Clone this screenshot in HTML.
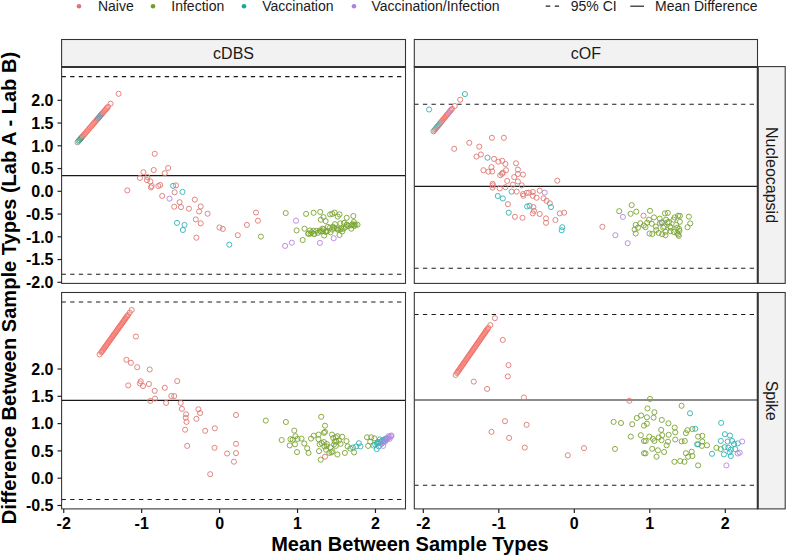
<!DOCTYPE html><html><head><meta charset="utf-8"><style>html,body{margin:0;padding:0;background:#fff;width:787px;height:557px;overflow:hidden}</style></head><body><svg width="787" height="557" viewBox="0 0 787 557" style="display:block">
<rect width="787" height="557" fill="#fff"/>
<circle cx="79" cy="6.2" r="2.3" fill="#d9757a"/>
<text x="97.9" y="11.3" font-family='"Liberation Sans", sans-serif' font-size="14" fill="#1a1a1a">Naive</text>
<circle cx="153" cy="6.2" r="2.3" fill="#739c28"/>
<text x="171.3" y="11.3" font-family='"Liberation Sans", sans-serif' font-size="14" fill="#1a1a1a">Infection</text>
<circle cx="244" cy="6.2" r="2.3" fill="#16a99c"/>
<text x="262.2" y="11.3" font-family='"Liberation Sans", sans-serif' font-size="14" fill="#1a1a1a">Vaccination</text>
<circle cx="354" cy="6.2" r="2.3" fill="#b07fe0"/>
<text x="371.5" y="11.3" font-family='"Liberation Sans", sans-serif' font-size="14" fill="#1a1a1a">Vaccination/Infection</text>
<line x1="545.7" y1="6.2" x2="559.1" y2="6.2" stroke="#222" stroke-width="1.2" stroke-dasharray="4.5 4.6"/>
<text x="570.8" y="11.3" font-family='"Liberation Sans", sans-serif' font-size="14" fill="#1a1a1a">95% CI</text>
<line x1="630.3" y1="6.2" x2="644" y2="6.2" stroke="#222" stroke-width="1.2"/>
<text x="655" y="11.3" font-family='"Liberation Sans", sans-serif' font-size="14" fill="#1a1a1a">Mean Difference</text>
<svg x="61.6" y="66.6" width="343.9" height="216.79999999999998" overflow="hidden">
<line x1="0" y1="10.0" x2="343.9" y2="10.0" stroke="#1a1a1a" stroke-width="1.07" stroke-dasharray="4.3 4.3"/>
<line x1="0" y1="207.70000000000002" x2="343.9" y2="207.70000000000002" stroke="#1a1a1a" stroke-width="1.07" stroke-dasharray="4.3 4.3"/>
<line x1="0" y1="109.0" x2="343.9" y2="109.0" stroke="#1a1a1a" stroke-width="1.07"/>
<circle cx="15.9" cy="75.7" r="2.55" fill="none" stroke="#8a9a8c" stroke-width="0.85"/>
<circle cx="16.8" cy="74.6" r="2.55" fill="none" stroke="#8a9a8c" stroke-width="0.85"/>
<circle cx="17.7" cy="73.6" r="2.55" fill="none" stroke="#3f9a7a" stroke-width="0.85"/>
<circle cx="18.7" cy="72.5" r="2.55" fill="none" stroke="#3f9a7a" stroke-width="0.85"/>
<circle cx="19.6" cy="71.4" r="2.55" fill="none" stroke="#3f9a7a" stroke-width="0.85"/>
<circle cx="20.5" cy="70.3" r="2.55" fill="none" stroke="#3f9a7a" stroke-width="0.85"/>
<circle cx="21.4" cy="69.2" r="2.55" fill="none" stroke="#f2756c" stroke-width="0.85"/>
<circle cx="22.4" cy="68.2" r="2.55" fill="none" stroke="#f2756c" stroke-width="0.85"/>
<circle cx="23.3" cy="67.1" r="2.55" fill="none" stroke="#f2756c" stroke-width="0.85"/>
<circle cx="24.2" cy="66.0" r="2.55" fill="none" stroke="#f2756c" stroke-width="0.85"/>
<circle cx="25.1" cy="64.9" r="2.55" fill="none" stroke="#f2756c" stroke-width="0.85"/>
<circle cx="26.1" cy="63.9" r="2.55" fill="none" stroke="#f2756c" stroke-width="0.85"/>
<circle cx="27.0" cy="62.8" r="2.55" fill="none" stroke="#f2756c" stroke-width="0.85"/>
<circle cx="27.9" cy="61.7" r="2.55" fill="none" stroke="#f2756c" stroke-width="0.85"/>
<circle cx="28.8" cy="60.6" r="2.55" fill="none" stroke="#f2756c" stroke-width="0.85"/>
<circle cx="29.8" cy="59.6" r="2.55" fill="none" stroke="#f2756c" stroke-width="0.85"/>
<circle cx="30.7" cy="58.5" r="2.55" fill="none" stroke="#f2756c" stroke-width="0.85"/>
<circle cx="31.6" cy="57.4" r="2.55" fill="none" stroke="#f2756c" stroke-width="0.85"/>
<circle cx="32.5" cy="56.3" r="2.55" fill="none" stroke="#f2756c" stroke-width="0.85"/>
<circle cx="33.5" cy="55.3" r="2.55" fill="none" stroke="#f2756c" stroke-width="0.85"/>
<circle cx="34.4" cy="54.2" r="2.55" fill="none" stroke="#f2756c" stroke-width="0.85"/>
<circle cx="35.3" cy="53.1" r="2.55" fill="none" stroke="#f2756c" stroke-width="0.85"/>
<circle cx="36.2" cy="52.0" r="2.55" fill="none" stroke="#7b8898" stroke-width="0.85"/>
<circle cx="37.2" cy="51.0" r="2.55" fill="none" stroke="#7b8898" stroke-width="0.85"/>
<circle cx="38.1" cy="49.9" r="2.55" fill="none" stroke="#7b8898" stroke-width="0.85"/>
<circle cx="39.0" cy="48.8" r="2.55" fill="none" stroke="#7b8898" stroke-width="0.85"/>
<circle cx="39.9" cy="47.7" r="2.55" fill="none" stroke="#7b8898" stroke-width="0.85"/>
<circle cx="40.9" cy="46.7" r="2.55" fill="none" stroke="#7b8898" stroke-width="0.85"/>
<circle cx="41.8" cy="45.6" r="2.55" fill="none" stroke="#f2756c" stroke-width="0.85"/>
<circle cx="42.7" cy="44.5" r="2.55" fill="none" stroke="#f2756c" stroke-width="0.85"/>
<circle cx="43.6" cy="43.4" r="2.55" fill="none" stroke="#f2756c" stroke-width="0.85"/>
<circle cx="44.6" cy="42.4" r="2.55" fill="none" stroke="#f2756c" stroke-width="0.85"/>
<circle cx="45.5" cy="41.3" r="2.55" fill="none" stroke="#f2756c" stroke-width="0.85"/>
<circle cx="46.4" cy="40.2" r="2.55" fill="none" stroke="#f2756c" stroke-width="0.85"/>
<circle cx="49.0" cy="37.1" r="2.55" fill="none" stroke="#df7872" stroke-width="0.9"/>
<circle cx="57.0" cy="27.2" r="2.55" fill="none" stroke="#df7872" stroke-width="0.9"/>
<circle cx="93.1" cy="87.2" r="2.55" fill="none" stroke="#df7872" stroke-width="0.9"/>
<circle cx="106.5" cy="101.4" r="2.55" fill="none" stroke="#df7872" stroke-width="0.9"/>
<circle cx="92.1" cy="103.4" r="2.55" fill="none" stroke="#df7872" stroke-width="0.9"/>
<circle cx="81.8" cy="105.6" r="2.55" fill="none" stroke="#df7872" stroke-width="0.9"/>
<circle cx="103.2" cy="106.6" r="2.55" fill="none" stroke="#df7872" stroke-width="0.9"/>
<circle cx="78.3" cy="111.3" r="2.55" fill="none" stroke="#df7872" stroke-width="0.9"/>
<circle cx="85.8" cy="110.5" r="2.55" fill="none" stroke="#df7872" stroke-width="0.9"/>
<circle cx="85.4" cy="113.5" r="2.55" fill="none" stroke="#df7872" stroke-width="0.9"/>
<circle cx="88.8" cy="114.9" r="2.55" fill="none" stroke="#df7872" stroke-width="0.9"/>
<circle cx="90.1" cy="119.4" r="2.55" fill="none" stroke="#df7872" stroke-width="0.9"/>
<circle cx="89.3" cy="120.8" r="2.55" fill="none" stroke="#df7872" stroke-width="0.9"/>
<circle cx="96.7" cy="119.4" r="2.55" fill="none" stroke="#df7872" stroke-width="0.9"/>
<circle cx="98.6" cy="118.4" r="2.55" fill="none" stroke="#df7872" stroke-width="0.9"/>
<circle cx="65.7" cy="123.8" r="2.55" fill="none" stroke="#df7872" stroke-width="0.9"/>
<circle cx="111.5" cy="119.2" r="2.55" fill="none" stroke="#30b2b5" stroke-width="0.9"/>
<circle cx="114.4" cy="118.8" r="2.55" fill="none" stroke="#df7872" stroke-width="0.9"/>
<circle cx="120.9" cy="125.3" r="2.55" fill="none" stroke="#30b2b5" stroke-width="0.9"/>
<circle cx="113.0" cy="125.7" r="2.55" fill="none" stroke="#df7872" stroke-width="0.9"/>
<circle cx="100.6" cy="129.3" r="2.55" fill="none" stroke="#df7872" stroke-width="0.9"/>
<circle cx="107.9" cy="132.0" r="2.55" fill="none" stroke="#b386dc" stroke-width="0.9"/>
<circle cx="118.0" cy="135.6" r="2.55" fill="none" stroke="#df7872" stroke-width="0.9"/>
<circle cx="133.2" cy="133.0" r="2.55" fill="none" stroke="#df7872" stroke-width="0.9"/>
<circle cx="112.6" cy="140.1" r="2.55" fill="none" stroke="#df7872" stroke-width="0.9"/>
<circle cx="119.4" cy="140.5" r="2.55" fill="none" stroke="#df7872" stroke-width="0.9"/>
<circle cx="127.3" cy="142.1" r="2.55" fill="none" stroke="#df7872" stroke-width="0.9"/>
<circle cx="139.1" cy="139.9" r="2.55" fill="none" stroke="#df7872" stroke-width="0.9"/>
<circle cx="137.5" cy="144.9" r="2.55" fill="none" stroke="#df7872" stroke-width="0.9"/>
<circle cx="146.0" cy="147.1" r="2.55" fill="none" stroke="#df7872" stroke-width="0.9"/>
<circle cx="134.2" cy="152.8" r="2.55" fill="none" stroke="#df7872" stroke-width="0.9"/>
<circle cx="139.1" cy="156.7" r="2.55" fill="none" stroke="#df7872" stroke-width="0.9"/>
<circle cx="115.4" cy="156.3" r="2.55" fill="none" stroke="#30b2b5" stroke-width="0.9"/>
<circle cx="122.9" cy="158.3" r="2.55" fill="none" stroke="#30b2b5" stroke-width="0.9"/>
<circle cx="121.3" cy="163.4" r="2.55" fill="none" stroke="#30b2b5" stroke-width="0.9"/>
<circle cx="157.9" cy="160.9" r="2.55" fill="none" stroke="#df7872" stroke-width="0.9"/>
<circle cx="161.2" cy="162.3" r="2.55" fill="none" stroke="#df7872" stroke-width="0.9"/>
<circle cx="134.8" cy="171.1" r="2.55" fill="none" stroke="#df7872" stroke-width="0.9"/>
<circle cx="176.2" cy="168.6" r="2.55" fill="none" stroke="#df7872" stroke-width="0.9"/>
<circle cx="167.7" cy="178.1" r="2.55" fill="none" stroke="#30b2b5" stroke-width="0.9"/>
<circle cx="194.4" cy="145.9" r="2.55" fill="none" stroke="#df7872" stroke-width="0.9"/>
<circle cx="196.3" cy="154.1" r="2.55" fill="none" stroke="#df7872" stroke-width="0.9"/>
<circle cx="185.3" cy="158.3" r="2.55" fill="none" stroke="#df7872" stroke-width="0.9"/>
<circle cx="199.3" cy="170.0" r="2.55" fill="none" stroke="#7aa432" stroke-width="0.9"/>
<circle cx="224.1" cy="146.5" r="2.55" fill="none" stroke="#7aa432" stroke-width="0.9"/>
<circle cx="234.4" cy="154.1" r="2.55" fill="none" stroke="#b386dc" stroke-width="0.9"/>
<circle cx="230.2" cy="176.1" r="2.55" fill="none" stroke="#b386dc" stroke-width="0.9"/>
<circle cx="223.5" cy="179.3" r="2.55" fill="none" stroke="#b386dc" stroke-width="0.9"/>
<circle cx="235.0" cy="163.8" r="2.55" fill="none" stroke="#7aa432" stroke-width="0.9"/>
<circle cx="244.5" cy="147.3" r="2.55" fill="none" stroke="#7aa432" stroke-width="0.9"/>
<circle cx="252.0" cy="146.2" r="2.55" fill="none" stroke="#7aa432" stroke-width="0.9"/>
<circle cx="258.6" cy="145.3" r="2.55" fill="none" stroke="#7aa432" stroke-width="0.9"/>
<circle cx="261.9" cy="150.5" r="2.55" fill="none" stroke="#7aa432" stroke-width="0.9"/>
<circle cx="259.2" cy="153.1" r="2.55" fill="none" stroke="#7aa432" stroke-width="0.9"/>
<circle cx="264.0" cy="154.5" r="2.55" fill="none" stroke="#7aa432" stroke-width="0.9"/>
<circle cx="268.5" cy="147.8" r="2.55" fill="none" stroke="#7aa432" stroke-width="0.9"/>
<circle cx="270.7" cy="147.3" r="2.55" fill="none" stroke="#7aa432" stroke-width="0.9"/>
<circle cx="273.0" cy="146.0" r="2.55" fill="none" stroke="#7aa432" stroke-width="0.9"/>
<circle cx="277.9" cy="147.8" r="2.55" fill="none" stroke="#7aa432" stroke-width="0.9"/>
<circle cx="276.1" cy="150.0" r="2.55" fill="none" stroke="#7aa432" stroke-width="0.9"/>
<circle cx="285.1" cy="151.2" r="2.55" fill="none" stroke="#7aa432" stroke-width="0.9"/>
<circle cx="291.8" cy="149.4" r="2.55" fill="none" stroke="#7aa432" stroke-width="0.9"/>
<circle cx="292.3" cy="155.4" r="2.55" fill="none" stroke="#7aa432" stroke-width="0.9"/>
<circle cx="295.9" cy="158.1" r="2.55" fill="none" stroke="#7aa432" stroke-width="0.9"/>
<circle cx="292.7" cy="159.4" r="2.55" fill="none" stroke="#7aa432" stroke-width="0.9"/>
<circle cx="242.9" cy="162.1" r="2.55" fill="none" stroke="#7aa432" stroke-width="0.9"/>
<circle cx="248.3" cy="163.9" r="2.55" fill="none" stroke="#7aa432" stroke-width="0.9"/>
<circle cx="246.9" cy="167.1" r="2.55" fill="none" stroke="#7aa432" stroke-width="0.9"/>
<circle cx="241.1" cy="173.4" r="2.55" fill="none" stroke="#7aa432" stroke-width="0.9"/>
<circle cx="252.8" cy="167.5" r="2.55" fill="none" stroke="#7aa432" stroke-width="0.9"/>
<circle cx="256.4" cy="166.2" r="2.55" fill="none" stroke="#7aa432" stroke-width="0.9"/>
<circle cx="260.8" cy="162.1" r="2.55" fill="none" stroke="#7aa432" stroke-width="0.9"/>
<circle cx="262.6" cy="168.9" r="2.55" fill="none" stroke="#7aa432" stroke-width="0.9"/>
<circle cx="266.2" cy="160.3" r="2.55" fill="none" stroke="#7aa432" stroke-width="0.9"/>
<circle cx="268.9" cy="165.7" r="2.55" fill="none" stroke="#7aa432" stroke-width="0.9"/>
<circle cx="273.4" cy="157.6" r="2.55" fill="none" stroke="#7aa432" stroke-width="0.9"/>
<circle cx="276.1" cy="163.0" r="2.55" fill="none" stroke="#7aa432" stroke-width="0.9"/>
<circle cx="277.9" cy="168.4" r="2.55" fill="none" stroke="#7aa432" stroke-width="0.9"/>
<circle cx="278.8" cy="156.7" r="2.55" fill="none" stroke="#7aa432" stroke-width="0.9"/>
<circle cx="282.4" cy="156.3" r="2.55" fill="none" stroke="#7aa432" stroke-width="0.9"/>
<circle cx="280.6" cy="164.8" r="2.55" fill="none" stroke="#7aa432" stroke-width="0.9"/>
<circle cx="284.2" cy="160.3" r="2.55" fill="none" stroke="#7aa432" stroke-width="0.9"/>
<circle cx="286.9" cy="159.4" r="2.55" fill="none" stroke="#7aa432" stroke-width="0.9"/>
<circle cx="289.6" cy="162.1" r="2.55" fill="none" stroke="#7aa432" stroke-width="0.9"/>
<circle cx="272.5" cy="161.2" r="2.55" fill="none" stroke="#7aa432" stroke-width="0.9"/>
<circle cx="264.4" cy="164.8" r="2.55" fill="none" stroke="#7aa432" stroke-width="0.9"/>
<circle cx="258.1" cy="163.9" r="2.55" fill="none" stroke="#7aa432" stroke-width="0.9"/>
<circle cx="250.1" cy="165.7" r="2.55" fill="none" stroke="#7aa432" stroke-width="0.9"/>
<circle cx="272.1" cy="171.6" r="2.55" fill="none" stroke="#b386dc" stroke-width="0.9"/>
<circle cx="258.3" cy="176.3" r="2.55" fill="none" stroke="#b386dc" stroke-width="0.9"/>
<circle cx="246.6" cy="167.1" r="2.55" fill="none" stroke="#7aa432" stroke-width="0.85"/>
<circle cx="249.0" cy="167.0" r="2.55" fill="none" stroke="#7aa432" stroke-width="0.85"/>
<circle cx="251.9" cy="164.2" r="2.55" fill="none" stroke="#7aa432" stroke-width="0.85"/>
<circle cx="252.1" cy="167.2" r="2.55" fill="none" stroke="#7aa432" stroke-width="0.85"/>
<circle cx="254.8" cy="164.2" r="2.55" fill="none" stroke="#7aa432" stroke-width="0.85"/>
<circle cx="259.1" cy="164.8" r="2.55" fill="none" stroke="#7aa432" stroke-width="0.85"/>
<circle cx="260.7" cy="164.5" r="2.55" fill="none" stroke="#7aa432" stroke-width="0.85"/>
<circle cx="262.1" cy="162.6" r="2.55" fill="none" stroke="#7aa432" stroke-width="0.85"/>
<circle cx="264.1" cy="165.4" r="2.55" fill="none" stroke="#7aa432" stroke-width="0.85"/>
<circle cx="265.9" cy="164.4" r="2.55" fill="none" stroke="#7aa432" stroke-width="0.85"/>
<circle cx="268.3" cy="161.1" r="2.55" fill="none" stroke="#7aa432" stroke-width="0.85"/>
<circle cx="270.6" cy="163.0" r="2.55" fill="none" stroke="#7aa432" stroke-width="0.85"/>
<circle cx="271.3" cy="160.1" r="2.55" fill="none" stroke="#7aa432" stroke-width="0.85"/>
<circle cx="275.1" cy="161.7" r="2.55" fill="none" stroke="#7aa432" stroke-width="0.85"/>
<circle cx="276.7" cy="163.1" r="2.55" fill="none" stroke="#7aa432" stroke-width="0.85"/>
<circle cx="278.7" cy="162.9" r="2.55" fill="none" stroke="#7aa432" stroke-width="0.85"/>
<circle cx="279.8" cy="162.0" r="2.55" fill="none" stroke="#7aa432" stroke-width="0.85"/>
<circle cx="282.0" cy="162.2" r="2.55" fill="none" stroke="#7aa432" stroke-width="0.85"/>
<circle cx="285.3" cy="158.1" r="2.55" fill="none" stroke="#7aa432" stroke-width="0.85"/>
<circle cx="285.1" cy="158.2" r="2.55" fill="none" stroke="#7aa432" stroke-width="0.85"/>
<circle cx="289.7" cy="158.8" r="2.55" fill="none" stroke="#7aa432" stroke-width="0.85"/>
<circle cx="290.7" cy="157.8" r="2.55" fill="none" stroke="#7aa432" stroke-width="0.85"/>
<circle cx="292.4" cy="157.8" r="2.55" fill="none" stroke="#7aa432" stroke-width="0.85"/>
<circle cx="293.9" cy="158.3" r="2.55" fill="none" stroke="#7aa432" stroke-width="0.85"/>
</svg>
<rect x="61.6" y="66.6" width="343.9" height="216.79999999999998" fill="none" stroke="#333333" stroke-width="1.07"/>
<svg x="414.3" y="66.6" width="343.2" height="216.79999999999998" overflow="hidden">
<line x1="0" y1="37.7" x2="343.2" y2="37.7" stroke="#1a1a1a" stroke-width="1.07" stroke-dasharray="4.3 4.3"/>
<line x1="0" y1="201.70000000000002" x2="343.2" y2="201.70000000000002" stroke="#1a1a1a" stroke-width="1.07" stroke-dasharray="4.3 4.3"/>
<line x1="0" y1="119.80000000000001" x2="343.2" y2="119.80000000000001" stroke="#1a1a1a" stroke-width="1.07"/>
<circle cx="19.2" cy="64.7" r="2.55" fill="none" stroke="#30b2b5" stroke-width="0.85"/>
<circle cx="20.1" cy="63.6" r="2.55" fill="none" stroke="#f2756c" stroke-width="0.85"/>
<circle cx="21.0" cy="62.6" r="2.55" fill="none" stroke="#30b2b5" stroke-width="0.85"/>
<circle cx="21.8" cy="61.5" r="2.55" fill="none" stroke="#f2756c" stroke-width="0.85"/>
<circle cx="22.7" cy="60.4" r="2.55" fill="none" stroke="#30b2b5" stroke-width="0.85"/>
<circle cx="23.6" cy="59.3" r="2.55" fill="none" stroke="#f2756c" stroke-width="0.85"/>
<circle cx="24.5" cy="58.3" r="2.55" fill="none" stroke="#30b2b5" stroke-width="0.85"/>
<circle cx="25.4" cy="57.2" r="2.55" fill="none" stroke="#f2756c" stroke-width="0.85"/>
<circle cx="26.2" cy="56.1" r="2.55" fill="none" stroke="#30b2b5" stroke-width="0.85"/>
<circle cx="27.1" cy="55.1" r="2.55" fill="none" stroke="#f2756c" stroke-width="0.85"/>
<circle cx="28.0" cy="54.0" r="2.55" fill="none" stroke="#f2756c" stroke-width="0.85"/>
<circle cx="28.9" cy="52.9" r="2.55" fill="none" stroke="#f2756c" stroke-width="0.85"/>
<circle cx="29.8" cy="51.8" r="2.55" fill="none" stroke="#f2756c" stroke-width="0.85"/>
<circle cx="30.6" cy="50.8" r="2.55" fill="none" stroke="#f2756c" stroke-width="0.85"/>
<circle cx="31.5" cy="49.7" r="2.55" fill="none" stroke="#f2756c" stroke-width="0.85"/>
<circle cx="32.4" cy="48.6" r="2.55" fill="none" stroke="#f2756c" stroke-width="0.85"/>
<circle cx="33.3" cy="47.6" r="2.55" fill="none" stroke="#f2756c" stroke-width="0.85"/>
<circle cx="34.2" cy="46.5" r="2.55" fill="none" stroke="#f2756c" stroke-width="0.85"/>
<circle cx="35.1" cy="45.4" r="2.55" fill="none" stroke="#b386dc" stroke-width="0.85"/>
<circle cx="35.9" cy="44.3" r="2.55" fill="none" stroke="#f2756c" stroke-width="0.85"/>
<circle cx="36.8" cy="43.3" r="2.55" fill="none" stroke="#b386dc" stroke-width="0.85"/>
<circle cx="37.7" cy="42.2" r="2.55" fill="none" stroke="#f2756c" stroke-width="0.85"/>
<circle cx="50.6" cy="27.5" r="2.55" fill="none" stroke="#30b2b5" stroke-width="0.9"/>
<circle cx="45.9" cy="33.1" r="2.55" fill="none" stroke="#df7872" stroke-width="0.9"/>
<circle cx="40.5" cy="39.4" r="2.55" fill="none" stroke="#df7872" stroke-width="0.9"/>
<circle cx="14.8" cy="42.9" r="2.55" fill="none" stroke="#30b2b5" stroke-width="0.9"/>
<circle cx="55.0" cy="76.2" r="2.55" fill="none" stroke="#df7872" stroke-width="0.9"/>
<circle cx="65.0" cy="80.0" r="2.55" fill="none" stroke="#df7872" stroke-width="0.9"/>
<circle cx="77.6" cy="71.2" r="2.55" fill="none" stroke="#df7872" stroke-width="0.9"/>
<circle cx="39.9" cy="82.2" r="2.55" fill="none" stroke="#df7872" stroke-width="0.9"/>
<circle cx="89.6" cy="71.2" r="2.55" fill="none" stroke="#df7872" stroke-width="0.9"/>
<circle cx="62.2" cy="90.0" r="2.55" fill="none" stroke="#df7872" stroke-width="0.9"/>
<circle cx="66.6" cy="87.9" r="2.55" fill="none" stroke="#df7872" stroke-width="0.9"/>
<circle cx="73.2" cy="91.1" r="2.55" fill="none" stroke="#30b2b5" stroke-width="0.9"/>
<circle cx="79.7" cy="92.3" r="2.55" fill="none" stroke="#df7872" stroke-width="0.9"/>
<circle cx="84.1" cy="95.1" r="2.55" fill="none" stroke="#df7872" stroke-width="0.9"/>
<circle cx="87.9" cy="94.2" r="2.55" fill="none" stroke="#df7872" stroke-width="0.9"/>
<circle cx="91.1" cy="97.3" r="2.55" fill="none" stroke="#df7872" stroke-width="0.9"/>
<circle cx="101.7" cy="96.7" r="2.55" fill="none" stroke="#df7872" stroke-width="0.9"/>
<circle cx="69.1" cy="103.6" r="2.55" fill="none" stroke="#df7872" stroke-width="0.9"/>
<circle cx="77.2" cy="100.5" r="2.55" fill="none" stroke="#df7872" stroke-width="0.9"/>
<circle cx="74.1" cy="105.1" r="2.55" fill="none" stroke="#df7872" stroke-width="0.9"/>
<circle cx="77.9" cy="104.9" r="2.55" fill="none" stroke="#df7872" stroke-width="0.9"/>
<circle cx="86.0" cy="108.6" r="2.55" fill="none" stroke="#df7872" stroke-width="0.9"/>
<circle cx="88.5" cy="106.1" r="2.55" fill="none" stroke="#df7872" stroke-width="0.9"/>
<circle cx="91.7" cy="103.6" r="2.55" fill="none" stroke="#df7872" stroke-width="0.9"/>
<circle cx="103.6" cy="103.0" r="2.55" fill="none" stroke="#df7872" stroke-width="0.9"/>
<circle cx="103.6" cy="107.4" r="2.55" fill="none" stroke="#df7872" stroke-width="0.9"/>
<circle cx="99.9" cy="110.5" r="2.55" fill="none" stroke="#df7872" stroke-width="0.9"/>
<circle cx="108.7" cy="108.0" r="2.55" fill="none" stroke="#df7872" stroke-width="0.9"/>
<circle cx="92.9" cy="114.3" r="2.55" fill="none" stroke="#df7872" stroke-width="0.9"/>
<circle cx="103.6" cy="114.9" r="2.55" fill="none" stroke="#df7872" stroke-width="0.9"/>
<circle cx="78.5" cy="118.7" r="2.55" fill="none" stroke="#df7872" stroke-width="0.9"/>
<circle cx="85.4" cy="121.8" r="2.55" fill="none" stroke="#df7872" stroke-width="0.9"/>
<circle cx="91.1" cy="120.6" r="2.55" fill="none" stroke="#df7872" stroke-width="0.9"/>
<circle cx="98.6" cy="118.1" r="2.55" fill="none" stroke="#df7872" stroke-width="0.9"/>
<circle cx="107.4" cy="118.7" r="2.55" fill="none" stroke="#df7872" stroke-width="0.9"/>
<circle cx="97.3" cy="125.0" r="2.55" fill="none" stroke="#30b2b5" stroke-width="0.9"/>
<circle cx="102.4" cy="125.0" r="2.55" fill="none" stroke="#df7872" stroke-width="0.9"/>
<circle cx="108.7" cy="127.5" r="2.55" fill="none" stroke="#df7872" stroke-width="0.9"/>
<circle cx="112.4" cy="126.2" r="2.55" fill="none" stroke="#df7872" stroke-width="0.9"/>
<circle cx="83.5" cy="129.4" r="2.55" fill="none" stroke="#30b2b5" stroke-width="0.9"/>
<circle cx="88.5" cy="131.9" r="2.55" fill="none" stroke="#30b2b5" stroke-width="0.9"/>
<circle cx="78.3" cy="117.2" r="2.55" fill="none" stroke="#df7872" stroke-width="0.9"/>
<circle cx="78.3" cy="121.0" r="2.55" fill="none" stroke="#df7872" stroke-width="0.9"/>
<circle cx="87.7" cy="107.2" r="2.55" fill="none" stroke="#df7872" stroke-width="0.9"/>
<circle cx="143.0" cy="114.1" r="2.55" fill="none" stroke="#df7872" stroke-width="0.9"/>
<circle cx="118.5" cy="125.4" r="2.55" fill="none" stroke="#df7872" stroke-width="0.9"/>
<circle cx="125.4" cy="124.1" r="2.55" fill="none" stroke="#df7872" stroke-width="0.9"/>
<circle cx="130.4" cy="126.0" r="2.55" fill="none" stroke="#b386dc" stroke-width="0.9"/>
<circle cx="109.1" cy="129.2" r="2.55" fill="none" stroke="#df7872" stroke-width="0.9"/>
<circle cx="114.7" cy="126.0" r="2.55" fill="none" stroke="#df7872" stroke-width="0.9"/>
<circle cx="118.5" cy="129.2" r="2.55" fill="none" stroke="#df7872" stroke-width="0.9"/>
<circle cx="122.3" cy="131.1" r="2.55" fill="none" stroke="#df7872" stroke-width="0.9"/>
<circle cx="129.2" cy="131.7" r="2.55" fill="none" stroke="#df7872" stroke-width="0.9"/>
<circle cx="132.3" cy="134.2" r="2.55" fill="none" stroke="#df7872" stroke-width="0.9"/>
<circle cx="135.5" cy="136.7" r="2.55" fill="none" stroke="#df7872" stroke-width="0.9"/>
<circle cx="136.7" cy="140.5" r="2.55" fill="none" stroke="#30b2b5" stroke-width="0.9"/>
<circle cx="93.6" cy="137.6" r="2.55" fill="none" stroke="#df7872" stroke-width="0.9"/>
<circle cx="94.4" cy="146.1" r="2.55" fill="none" stroke="#30b2b5" stroke-width="0.9"/>
<circle cx="112.8" cy="139.9" r="2.55" fill="none" stroke="#30b2b5" stroke-width="0.9"/>
<circle cx="115.3" cy="139.2" r="2.55" fill="none" stroke="#30b2b5" stroke-width="0.9"/>
<circle cx="119.1" cy="140.5" r="2.55" fill="none" stroke="#df7872" stroke-width="0.9"/>
<circle cx="118.5" cy="146.8" r="2.55" fill="none" stroke="#df7872" stroke-width="0.9"/>
<circle cx="119.7" cy="144.2" r="2.55" fill="none" stroke="#df7872" stroke-width="0.9"/>
<circle cx="125.4" cy="147.4" r="2.55" fill="none" stroke="#df7872" stroke-width="0.9"/>
<circle cx="100.6" cy="150.2" r="2.55" fill="none" stroke="#df7872" stroke-width="0.9"/>
<circle cx="108.2" cy="151.2" r="2.55" fill="none" stroke="#df7872" stroke-width="0.9"/>
<circle cx="131.7" cy="151.8" r="2.55" fill="none" stroke="#df7872" stroke-width="0.9"/>
<circle cx="131.7" cy="156.2" r="2.55" fill="none" stroke="#df7872" stroke-width="0.9"/>
<circle cx="141.1" cy="153.4" r="2.55" fill="none" stroke="#df7872" stroke-width="0.9"/>
<circle cx="145.5" cy="146.8" r="2.55" fill="none" stroke="#df7872" stroke-width="0.9"/>
<circle cx="149.9" cy="146.1" r="2.55" fill="none" stroke="#df7872" stroke-width="0.9"/>
<circle cx="148.0" cy="160.6" r="2.55" fill="none" stroke="#30b2b5" stroke-width="0.9"/>
<circle cx="147.4" cy="163.7" r="2.55" fill="none" stroke="#30b2b5" stroke-width="0.9"/>
<circle cx="188.1" cy="160.2" r="2.55" fill="none" stroke="#df7872" stroke-width="0.9"/>
<circle cx="201.1" cy="168.6" r="2.55" fill="none" stroke="#b386dc" stroke-width="0.9"/>
<circle cx="213.4" cy="176.6" r="2.55" fill="none" stroke="#b386dc" stroke-width="0.9"/>
<circle cx="208.6" cy="150.3" r="2.55" fill="none" stroke="#b386dc" stroke-width="0.9"/>
<circle cx="229.2" cy="149.1" r="2.55" fill="none" stroke="#df7872" stroke-width="0.9"/>
<circle cx="204.9" cy="144.6" r="2.55" fill="none" stroke="#7aa432" stroke-width="0.9"/>
<circle cx="217.4" cy="138.5" r="2.55" fill="none" stroke="#7aa432" stroke-width="0.9"/>
<circle cx="216.3" cy="147.2" r="2.55" fill="none" stroke="#7aa432" stroke-width="0.9"/>
<circle cx="222.0" cy="145.1" r="2.55" fill="none" stroke="#7aa432" stroke-width="0.9"/>
<circle cx="235.7" cy="144.2" r="2.55" fill="none" stroke="#7aa432" stroke-width="0.9"/>
<circle cx="221.4" cy="158.3" r="2.55" fill="none" stroke="#7aa432" stroke-width="0.9"/>
<circle cx="223.7" cy="161.1" r="2.55" fill="none" stroke="#7aa432" stroke-width="0.9"/>
<circle cx="220.3" cy="162.9" r="2.55" fill="none" stroke="#7aa432" stroke-width="0.9"/>
<circle cx="221.4" cy="166.9" r="2.55" fill="none" stroke="#7aa432" stroke-width="0.9"/>
<circle cx="226.0" cy="156.6" r="2.55" fill="none" stroke="#7aa432" stroke-width="0.9"/>
<circle cx="229.5" cy="158.9" r="2.55" fill="none" stroke="#7aa432" stroke-width="0.9"/>
<circle cx="231.2" cy="160.6" r="2.55" fill="none" stroke="#7aa432" stroke-width="0.9"/>
<circle cx="232.9" cy="156.0" r="2.55" fill="none" stroke="#7aa432" stroke-width="0.9"/>
<circle cx="235.2" cy="166.9" r="2.55" fill="none" stroke="#7aa432" stroke-width="0.9"/>
<circle cx="238.0" cy="167.4" r="2.55" fill="none" stroke="#7aa432" stroke-width="0.9"/>
<circle cx="239.7" cy="150.8" r="2.55" fill="none" stroke="#7aa432" stroke-width="0.9"/>
<circle cx="237.5" cy="157.1" r="2.55" fill="none" stroke="#7aa432" stroke-width="0.9"/>
<circle cx="241.5" cy="160.0" r="2.55" fill="none" stroke="#7aa432" stroke-width="0.9"/>
<circle cx="244.3" cy="166.3" r="2.55" fill="none" stroke="#7aa432" stroke-width="0.9"/>
<circle cx="245.5" cy="152.0" r="2.55" fill="none" stroke="#7aa432" stroke-width="0.9"/>
<circle cx="247.2" cy="156.0" r="2.55" fill="none" stroke="#7aa432" stroke-width="0.9"/>
<circle cx="248.9" cy="161.1" r="2.55" fill="none" stroke="#7aa432" stroke-width="0.9"/>
<circle cx="250.6" cy="146.8" r="2.55" fill="none" stroke="#7aa432" stroke-width="0.9"/>
<circle cx="253.5" cy="146.3" r="2.55" fill="none" stroke="#7aa432" stroke-width="0.9"/>
<circle cx="251.8" cy="153.1" r="2.55" fill="none" stroke="#7aa432" stroke-width="0.9"/>
<circle cx="254.6" cy="155.4" r="2.55" fill="none" stroke="#7aa432" stroke-width="0.9"/>
<circle cx="255.8" cy="160.0" r="2.55" fill="none" stroke="#7aa432" stroke-width="0.9"/>
<circle cx="251.2" cy="165.1" r="2.55" fill="none" stroke="#7aa432" stroke-width="0.9"/>
<circle cx="256.3" cy="164.6" r="2.55" fill="none" stroke="#7aa432" stroke-width="0.9"/>
<circle cx="251.2" cy="168.6" r="2.55" fill="none" stroke="#7aa432" stroke-width="0.9"/>
<circle cx="260.3" cy="150.8" r="2.55" fill="none" stroke="#7aa432" stroke-width="0.9"/>
<circle cx="263.8" cy="149.1" r="2.55" fill="none" stroke="#7aa432" stroke-width="0.9"/>
<circle cx="262.0" cy="158.3" r="2.55" fill="none" stroke="#7aa432" stroke-width="0.9"/>
<circle cx="264.9" cy="162.3" r="2.55" fill="none" stroke="#7aa432" stroke-width="0.9"/>
<circle cx="263.8" cy="168.0" r="2.55" fill="none" stroke="#7aa432" stroke-width="0.9"/>
<circle cx="234.6" cy="153.1" r="2.55" fill="none" stroke="#7aa432" stroke-width="0.9"/>
<circle cx="242.0" cy="163.4" r="2.55" fill="none" stroke="#7aa432" stroke-width="0.9"/>
<circle cx="245.5" cy="156.6" r="2.55" fill="none" stroke="#8a9a8c" stroke-width="0.9"/>
<circle cx="265.6" cy="149.3" r="2.55" fill="none" stroke="#7aa432" stroke-width="0.9"/>
<circle cx="274.6" cy="150.1" r="2.55" fill="none" stroke="#7aa432" stroke-width="0.9"/>
<circle cx="265.6" cy="155.2" r="2.55" fill="none" stroke="#7aa432" stroke-width="0.9"/>
<circle cx="275.9" cy="156.8" r="2.55" fill="none" stroke="#7aa432" stroke-width="0.9"/>
<circle cx="273.2" cy="160.6" r="2.55" fill="none" stroke="#7aa432" stroke-width="0.9"/>
<circle cx="259.2" cy="153.0" r="2.55" fill="none" stroke="#7aa432" stroke-width="0.9"/>
<circle cx="253.2" cy="155.7" r="2.55" fill="none" stroke="#7aa432" stroke-width="0.9"/>
<circle cx="247.9" cy="155.7" r="2.55" fill="none" stroke="#8a9a8c" stroke-width="0.9"/>
<circle cx="250.0" cy="160.0" r="2.55" fill="none" stroke="#7aa432" stroke-width="0.9"/>
<circle cx="256.5" cy="161.1" r="2.55" fill="none" stroke="#7aa432" stroke-width="0.9"/>
<circle cx="262.9" cy="161.1" r="2.55" fill="none" stroke="#7aa432" stroke-width="0.9"/>
<circle cx="265.1" cy="164.3" r="2.55" fill="none" stroke="#7aa432" stroke-width="0.9"/>
<circle cx="259.7" cy="165.4" r="2.55" fill="none" stroke="#7aa432" stroke-width="0.9"/>
<circle cx="247.9" cy="167.6" r="2.55" fill="none" stroke="#7aa432" stroke-width="0.9"/>
<circle cx="264.6" cy="169.2" r="2.55" fill="none" stroke="#7aa432" stroke-width="0.9"/>
<circle cx="262.9" cy="166.5" r="2.55" fill="none" stroke="#7aa432" stroke-width="0.9"/>
</svg>
<rect x="414.3" y="66.6" width="343.2" height="216.79999999999998" fill="none" stroke="#333333" stroke-width="1.07"/>
<svg x="61.6" y="292.5" width="343.9" height="216.39999999999998" overflow="hidden">
<line x1="0" y1="9.5" x2="343.9" y2="9.5" stroke="#1a1a1a" stroke-width="1.07" stroke-dasharray="4.3 4.3"/>
<line x1="0" y1="207.0" x2="343.9" y2="207.0" stroke="#1a1a1a" stroke-width="1.07" stroke-dasharray="4.3 4.3"/>
<line x1="0" y1="107.89999999999998" x2="343.9" y2="107.89999999999998" stroke="#1a1a1a" stroke-width="1.07"/>
<circle cx="39.6" cy="59.9" r="2.55" fill="none" stroke="#f2756c" stroke-width="0.85"/>
<circle cx="40.3" cy="58.9" r="2.55" fill="none" stroke="#f2756c" stroke-width="0.85"/>
<circle cx="41.1" cy="57.9" r="2.55" fill="none" stroke="#f2756c" stroke-width="0.85"/>
<circle cx="41.8" cy="56.9" r="2.55" fill="none" stroke="#f2756c" stroke-width="0.85"/>
<circle cx="42.5" cy="55.9" r="2.55" fill="none" stroke="#f2756c" stroke-width="0.85"/>
<circle cx="43.2" cy="54.9" r="2.55" fill="none" stroke="#f2756c" stroke-width="0.85"/>
<circle cx="43.9" cy="53.8" r="2.55" fill="none" stroke="#f2756c" stroke-width="0.85"/>
<circle cx="44.7" cy="52.8" r="2.55" fill="none" stroke="#f2756c" stroke-width="0.85"/>
<circle cx="45.4" cy="51.8" r="2.55" fill="none" stroke="#f2756c" stroke-width="0.85"/>
<circle cx="46.1" cy="50.8" r="2.55" fill="none" stroke="#f2756c" stroke-width="0.85"/>
<circle cx="46.8" cy="49.8" r="2.55" fill="none" stroke="#f2756c" stroke-width="0.85"/>
<circle cx="47.6" cy="48.8" r="2.55" fill="none" stroke="#f2756c" stroke-width="0.85"/>
<circle cx="48.3" cy="47.8" r="2.55" fill="none" stroke="#f2756c" stroke-width="0.85"/>
<circle cx="49.0" cy="46.8" r="2.55" fill="none" stroke="#f2756c" stroke-width="0.85"/>
<circle cx="49.7" cy="45.8" r="2.55" fill="none" stroke="#f2756c" stroke-width="0.85"/>
<circle cx="50.5" cy="44.7" r="2.55" fill="none" stroke="#f2756c" stroke-width="0.85"/>
<circle cx="51.2" cy="43.7" r="2.55" fill="none" stroke="#f2756c" stroke-width="0.85"/>
<circle cx="51.9" cy="42.7" r="2.55" fill="none" stroke="#f2756c" stroke-width="0.85"/>
<circle cx="52.6" cy="41.7" r="2.55" fill="none" stroke="#f2756c" stroke-width="0.85"/>
<circle cx="53.4" cy="40.7" r="2.55" fill="none" stroke="#f2756c" stroke-width="0.85"/>
<circle cx="54.1" cy="39.7" r="2.55" fill="none" stroke="#f2756c" stroke-width="0.85"/>
<circle cx="54.8" cy="38.7" r="2.55" fill="none" stroke="#f2756c" stroke-width="0.85"/>
<circle cx="55.5" cy="37.7" r="2.55" fill="none" stroke="#f2756c" stroke-width="0.85"/>
<circle cx="56.3" cy="36.6" r="2.55" fill="none" stroke="#f2756c" stroke-width="0.85"/>
<circle cx="57.0" cy="35.6" r="2.55" fill="none" stroke="#f2756c" stroke-width="0.85"/>
<circle cx="57.7" cy="34.6" r="2.55" fill="none" stroke="#f2756c" stroke-width="0.85"/>
<circle cx="58.4" cy="33.6" r="2.55" fill="none" stroke="#f2756c" stroke-width="0.85"/>
<circle cx="59.2" cy="32.6" r="2.55" fill="none" stroke="#f2756c" stroke-width="0.85"/>
<circle cx="59.9" cy="31.6" r="2.55" fill="none" stroke="#f2756c" stroke-width="0.85"/>
<circle cx="60.6" cy="30.6" r="2.55" fill="none" stroke="#f2756c" stroke-width="0.85"/>
<circle cx="61.3" cy="29.6" r="2.55" fill="none" stroke="#f2756c" stroke-width="0.85"/>
<circle cx="62.1" cy="28.6" r="2.55" fill="none" stroke="#f2756c" stroke-width="0.85"/>
<circle cx="62.8" cy="27.6" r="2.55" fill="none" stroke="#f2756c" stroke-width="0.85"/>
<circle cx="63.5" cy="26.5" r="2.55" fill="none" stroke="#f2756c" stroke-width="0.85"/>
<circle cx="64.2" cy="25.5" r="2.55" fill="none" stroke="#f2756c" stroke-width="0.85"/>
<circle cx="64.9" cy="24.5" r="2.55" fill="none" stroke="#f2756c" stroke-width="0.85"/>
<circle cx="65.7" cy="23.5" r="2.55" fill="none" stroke="#f2756c" stroke-width="0.85"/>
<circle cx="66.4" cy="22.5" r="2.55" fill="none" stroke="#f2756c" stroke-width="0.85"/>
<circle cx="38.0" cy="61.9" r="2.55" fill="none" stroke="#df7872" stroke-width="0.9"/>
<circle cx="68.2" cy="20.1" r="2.55" fill="none" stroke="#df7872" stroke-width="0.9"/>
<circle cx="70.1" cy="17.5" r="2.55" fill="none" stroke="#df7872" stroke-width="0.9"/>
<circle cx="74.3" cy="44.0" r="2.55" fill="none" stroke="#df7872" stroke-width="0.9"/>
<circle cx="64.8" cy="67.3" r="2.55" fill="none" stroke="#df7872" stroke-width="0.9"/>
<circle cx="69.3" cy="70.3" r="2.55" fill="none" stroke="#df7872" stroke-width="0.9"/>
<circle cx="75.6" cy="74.7" r="2.55" fill="none" stroke="#df7872" stroke-width="0.9"/>
<circle cx="88.1" cy="77.0" r="2.55" fill="none" stroke="#df7872" stroke-width="0.9"/>
<circle cx="66.6" cy="92.9" r="2.55" fill="none" stroke="#df7872" stroke-width="0.9"/>
<circle cx="79.2" cy="88.8" r="2.55" fill="none" stroke="#df7872" stroke-width="0.9"/>
<circle cx="78.3" cy="90.9" r="2.55" fill="none" stroke="#df7872" stroke-width="0.9"/>
<circle cx="81.4" cy="93.5" r="2.55" fill="none" stroke="#df7872" stroke-width="0.9"/>
<circle cx="87.3" cy="91.5" r="2.55" fill="none" stroke="#df7872" stroke-width="0.9"/>
<circle cx="93.1" cy="98.3" r="2.55" fill="none" stroke="#df7872" stroke-width="0.9"/>
<circle cx="103.2" cy="95.3" r="2.55" fill="none" stroke="#df7872" stroke-width="0.9"/>
<circle cx="115.6" cy="88.6" r="2.55" fill="none" stroke="#df7872" stroke-width="0.9"/>
<circle cx="109.7" cy="103.4" r="2.55" fill="none" stroke="#df7872" stroke-width="0.9"/>
<circle cx="112.6" cy="103.6" r="2.55" fill="none" stroke="#df7872" stroke-width="0.9"/>
<circle cx="88.7" cy="108.4" r="2.55" fill="none" stroke="#df7872" stroke-width="0.9"/>
<circle cx="93.4" cy="106.1" r="2.55" fill="none" stroke="#df7872" stroke-width="0.9"/>
<circle cx="104.5" cy="110.4" r="2.55" fill="none" stroke="#df7872" stroke-width="0.9"/>
<circle cx="119.1" cy="110.4" r="2.55" fill="none" stroke="#df7872" stroke-width="0.9"/>
<circle cx="120.3" cy="116.4" r="2.55" fill="none" stroke="#df7872" stroke-width="0.9"/>
<circle cx="124.5" cy="121.8" r="2.55" fill="none" stroke="#df7872" stroke-width="0.9"/>
<circle cx="124.1" cy="125.2" r="2.55" fill="none" stroke="#df7872" stroke-width="0.9"/>
<circle cx="136.8" cy="116.8" r="2.55" fill="none" stroke="#df7872" stroke-width="0.9"/>
<circle cx="138.5" cy="120.5" r="2.55" fill="none" stroke="#df7872" stroke-width="0.9"/>
<circle cx="134.8" cy="126.3" r="2.55" fill="none" stroke="#df7872" stroke-width="0.9"/>
<circle cx="124.9" cy="129.4" r="2.55" fill="none" stroke="#df7872" stroke-width="0.9"/>
<circle cx="174.4" cy="122.5" r="2.55" fill="none" stroke="#df7872" stroke-width="0.9"/>
<circle cx="123.5" cy="137.2" r="2.55" fill="none" stroke="#df7872" stroke-width="0.9"/>
<circle cx="143.6" cy="138.3" r="2.55" fill="none" stroke="#df7872" stroke-width="0.9"/>
<circle cx="153.2" cy="135.8" r="2.55" fill="none" stroke="#df7872" stroke-width="0.9"/>
<circle cx="125.6" cy="153.4" r="2.55" fill="none" stroke="#df7872" stroke-width="0.9"/>
<circle cx="152.9" cy="155.3" r="2.55" fill="none" stroke="#df7872" stroke-width="0.9"/>
<circle cx="165.5" cy="161.0" r="2.55" fill="none" stroke="#df7872" stroke-width="0.9"/>
<circle cx="174.4" cy="151.3" r="2.55" fill="none" stroke="#df7872" stroke-width="0.9"/>
<circle cx="174.4" cy="160.6" r="2.55" fill="none" stroke="#df7872" stroke-width="0.9"/>
<circle cx="172.3" cy="169.2" r="2.55" fill="none" stroke="#df7872" stroke-width="0.9"/>
<circle cx="148.6" cy="181.7" r="2.55" fill="none" stroke="#df7872" stroke-width="0.9"/>
<circle cx="263.4" cy="164.2" r="2.55" fill="none" stroke="#df7872" stroke-width="0.9"/>
<circle cx="204.2" cy="128.1" r="2.55" fill="none" stroke="#7aa432" stroke-width="0.9"/>
<circle cx="224.3" cy="129.5" r="2.55" fill="none" stroke="#7aa432" stroke-width="0.9"/>
<circle cx="232.7" cy="138.1" r="2.55" fill="none" stroke="#7aa432" stroke-width="0.9"/>
<circle cx="220.1" cy="147.5" r="2.55" fill="none" stroke="#7aa432" stroke-width="0.9"/>
<circle cx="228.9" cy="146.7" r="2.55" fill="none" stroke="#7aa432" stroke-width="0.9"/>
<circle cx="231.1" cy="147.2" r="2.55" fill="none" stroke="#7aa432" stroke-width="0.9"/>
<circle cx="233.8" cy="143.7" r="2.55" fill="none" stroke="#7aa432" stroke-width="0.9"/>
<circle cx="235.9" cy="146.4" r="2.55" fill="none" stroke="#7aa432" stroke-width="0.9"/>
<circle cx="239.9" cy="146.1" r="2.55" fill="none" stroke="#7aa432" stroke-width="0.9"/>
<circle cx="228.1" cy="152.9" r="2.55" fill="none" stroke="#7aa432" stroke-width="0.9"/>
<circle cx="233.4" cy="151.8" r="2.55" fill="none" stroke="#7aa432" stroke-width="0.9"/>
<circle cx="242.7" cy="151.0" r="2.55" fill="none" stroke="#7aa432" stroke-width="0.9"/>
<circle cx="245.6" cy="155.8" r="2.55" fill="none" stroke="#7aa432" stroke-width="0.9"/>
<circle cx="246.9" cy="160.4" r="2.55" fill="none" stroke="#7aa432" stroke-width="0.9"/>
<circle cx="235.4" cy="159.6" r="2.55" fill="none" stroke="#7aa432" stroke-width="0.9"/>
<circle cx="249.4" cy="146.1" r="2.55" fill="none" stroke="#7aa432" stroke-width="0.9"/>
<circle cx="252.1" cy="143.2" r="2.55" fill="none" stroke="#7aa432" stroke-width="0.9"/>
<circle cx="256.9" cy="142.1" r="2.55" fill="none" stroke="#7aa432" stroke-width="0.9"/>
<circle cx="259.6" cy="124.3" r="2.55" fill="none" stroke="#7aa432" stroke-width="0.9"/>
<circle cx="263.4" cy="133.2" r="2.55" fill="none" stroke="#7aa432" stroke-width="0.9"/>
<circle cx="262.3" cy="140.3" r="2.55" fill="none" stroke="#7aa432" stroke-width="0.9"/>
<circle cx="256.9" cy="146.7" r="2.55" fill="none" stroke="#7aa432" stroke-width="0.9"/>
<circle cx="258.0" cy="151.8" r="2.55" fill="none" stroke="#7aa432" stroke-width="0.9"/>
<circle cx="262.3" cy="149.6" r="2.55" fill="none" stroke="#7aa432" stroke-width="0.9"/>
<circle cx="262.8" cy="153.9" r="2.55" fill="none" stroke="#7aa432" stroke-width="0.9"/>
<circle cx="264.4" cy="157.2" r="2.55" fill="none" stroke="#7aa432" stroke-width="0.9"/>
<circle cx="257.4" cy="158.6" r="2.55" fill="none" stroke="#7aa432" stroke-width="0.9"/>
<circle cx="259.1" cy="167.2" r="2.55" fill="none" stroke="#7aa432" stroke-width="0.9"/>
<circle cx="270.4" cy="142.1" r="2.55" fill="none" stroke="#7aa432" stroke-width="0.9"/>
<circle cx="270.9" cy="158.8" r="2.55" fill="none" stroke="#7aa432" stroke-width="0.9"/>
<circle cx="267.7" cy="160.4" r="2.55" fill="none" stroke="#7aa432" stroke-width="0.9"/>
<circle cx="274.2" cy="144.8" r="2.55" fill="none" stroke="#7aa432" stroke-width="0.9"/>
<circle cx="275.8" cy="143.7" r="2.55" fill="none" stroke="#7aa432" stroke-width="0.9"/>
<circle cx="280.6" cy="144.3" r="2.55" fill="none" stroke="#7aa432" stroke-width="0.9"/>
<circle cx="273.1" cy="149.1" r="2.55" fill="none" stroke="#7aa432" stroke-width="0.9"/>
<circle cx="277.4" cy="148.0" r="2.55" fill="none" stroke="#7aa432" stroke-width="0.9"/>
<circle cx="279.0" cy="151.3" r="2.55" fill="none" stroke="#7aa432" stroke-width="0.9"/>
<circle cx="274.2" cy="153.4" r="2.55" fill="none" stroke="#7aa432" stroke-width="0.9"/>
<circle cx="284.9" cy="148.6" r="2.55" fill="none" stroke="#7aa432" stroke-width="0.9"/>
<circle cx="286.0" cy="153.9" r="2.55" fill="none" stroke="#7aa432" stroke-width="0.9"/>
<circle cx="283.3" cy="160.4" r="2.55" fill="none" stroke="#7aa432" stroke-width="0.9"/>
<circle cx="275.8" cy="162.0" r="2.55" fill="none" stroke="#7aa432" stroke-width="0.9"/>
<circle cx="269.9" cy="159.9" r="2.55" fill="none" stroke="#7aa432" stroke-width="0.9"/>
<circle cx="263.4" cy="139.4" r="2.55" fill="none" stroke="#7aa432" stroke-width="0.9"/>
<circle cx="265.0" cy="153.9" r="2.55" fill="none" stroke="#7aa432" stroke-width="0.9"/>
<circle cx="288.7" cy="156.1" r="2.55" fill="none" stroke="#7aa432" stroke-width="0.9"/>
<circle cx="292.5" cy="159.9" r="2.55" fill="none" stroke="#7aa432" stroke-width="0.9"/>
<circle cx="305.4" cy="144.8" r="2.55" fill="none" stroke="#7aa432" stroke-width="0.9"/>
<circle cx="309.7" cy="144.8" r="2.55" fill="none" stroke="#7aa432" stroke-width="0.9"/>
<circle cx="312.9" cy="145.9" r="2.55" fill="none" stroke="#7aa432" stroke-width="0.9"/>
<circle cx="308.6" cy="149.1" r="2.55" fill="none" stroke="#7aa432" stroke-width="0.9"/>
<circle cx="306.5" cy="153.4" r="2.55" fill="none" stroke="#7aa432" stroke-width="0.9"/>
<circle cx="291.4" cy="155.0" r="2.55" fill="none" stroke="#30b2b5" stroke-width="0.9"/>
<circle cx="294.6" cy="153.9" r="2.55" fill="none" stroke="#30b2b5" stroke-width="0.9"/>
<circle cx="297.3" cy="150.7" r="2.55" fill="none" stroke="#30b2b5" stroke-width="0.9"/>
<circle cx="298.9" cy="153.9" r="2.55" fill="none" stroke="#30b2b5" stroke-width="0.9"/>
<circle cx="315.1" cy="156.6" r="2.55" fill="none" stroke="#30b2b5" stroke-width="0.9"/>
<circle cx="316.1" cy="149.6" r="2.55" fill="none" stroke="#30b2b5" stroke-width="0.9"/>
<circle cx="318.3" cy="146.9" r="2.55" fill="none" stroke="#30b2b5" stroke-width="0.9"/>
<circle cx="319.9" cy="151.3" r="2.55" fill="none" stroke="#30b2b5" stroke-width="0.9"/>
<circle cx="317.2" cy="153.9" r="2.55" fill="none" stroke="#30b2b5" stroke-width="0.9"/>
<circle cx="322.1" cy="148.6" r="2.55" fill="none" stroke="#30b2b5" stroke-width="0.9"/>
<circle cx="324.8" cy="145.9" r="2.55" fill="none" stroke="#b386dc" stroke-width="0.9"/>
<circle cx="326.9" cy="143.7" r="2.55" fill="none" stroke="#b386dc" stroke-width="0.9"/>
<circle cx="329.6" cy="143.7" r="2.55" fill="none" stroke="#b386dc" stroke-width="0.9"/>
<circle cx="323.7" cy="149.1" r="2.55" fill="none" stroke="#b386dc" stroke-width="0.9"/>
<circle cx="321.5" cy="153.4" r="2.55" fill="none" stroke="#b386dc" stroke-width="0.9"/>
<circle cx="328.0" cy="146.4" r="2.55" fill="none" stroke="#b386dc" stroke-width="0.9"/>
<circle cx="259.9" cy="150.5" r="2.55" fill="none" stroke="#7aa432" stroke-width="0.9"/>
<circle cx="265.2" cy="151.5" r="2.55" fill="none" stroke="#7aa432" stroke-width="0.9"/>
<circle cx="271.6" cy="145.5" r="2.55" fill="none" stroke="#7aa432" stroke-width="0.9"/>
<circle cx="274.6" cy="148.7" r="2.55" fill="none" stroke="#7aa432" stroke-width="0.9"/>
<circle cx="272.4" cy="152.0" r="2.55" fill="none" stroke="#7aa432" stroke-width="0.9"/>
<circle cx="268.9" cy="155.0" r="2.55" fill="none" stroke="#7aa432" stroke-width="0.9"/>
<circle cx="311.9" cy="153.0" r="2.55" fill="none" stroke="#30b2b5" stroke-width="0.85"/>
<circle cx="313.6" cy="152.0" r="2.55" fill="none" stroke="#30b2b5" stroke-width="0.85"/>
<circle cx="315.3" cy="151.1" r="2.55" fill="none" stroke="#30b2b5" stroke-width="0.85"/>
<circle cx="317.0" cy="150.1" r="2.55" fill="none" stroke="#30b2b5" stroke-width="0.85"/>
<circle cx="318.8" cy="149.2" r="2.55" fill="none" stroke="#30b2b5" stroke-width="0.85"/>
<circle cx="320.5" cy="148.2" r="2.55" fill="none" stroke="#30b2b5" stroke-width="0.85"/>
<circle cx="322.2" cy="147.3" r="2.55" fill="none" stroke="#30b2b5" stroke-width="0.85"/>
<circle cx="323.9" cy="146.3" r="2.55" fill="none" stroke="#30b2b5" stroke-width="0.85"/>
<circle cx="319.9" cy="151.0" r="2.55" fill="none" stroke="#b386dc" stroke-width="0.85"/>
<circle cx="321.6" cy="149.7" r="2.55" fill="none" stroke="#b386dc" stroke-width="0.85"/>
<circle cx="323.2" cy="148.3" r="2.55" fill="none" stroke="#b386dc" stroke-width="0.85"/>
<circle cx="324.9" cy="147.0" r="2.55" fill="none" stroke="#b386dc" stroke-width="0.85"/>
<circle cx="326.6" cy="145.7" r="2.55" fill="none" stroke="#b386dc" stroke-width="0.85"/>
<circle cx="328.2" cy="144.3" r="2.55" fill="none" stroke="#b386dc" stroke-width="0.85"/>
<circle cx="329.9" cy="143.0" r="2.55" fill="none" stroke="#b386dc" stroke-width="0.85"/>
</svg>
<rect x="61.6" y="292.5" width="343.9" height="216.39999999999998" fill="none" stroke="#333333" stroke-width="1.07"/>
<svg x="414.3" y="292.5" width="343.2" height="216.39999999999998" overflow="hidden">
<line x1="0" y1="22.0" x2="343.2" y2="22.0" stroke="#1a1a1a" stroke-width="1.07" stroke-dasharray="4.3 4.3"/>
<line x1="0" y1="192.7" x2="343.2" y2="192.7" stroke="#1a1a1a" stroke-width="1.07" stroke-dasharray="4.3 4.3"/>
<line x1="0" y1="107.5" x2="343.2" y2="107.5" stroke="#1a1a1a" stroke-width="1.07"/>
<circle cx="42.7" cy="80.5" r="2.55" fill="none" stroke="#f2756c" stroke-width="0.85"/>
<circle cx="43.4" cy="79.4" r="2.55" fill="none" stroke="#f2756c" stroke-width="0.85"/>
<circle cx="44.2" cy="78.4" r="2.55" fill="none" stroke="#f2756c" stroke-width="0.85"/>
<circle cx="44.9" cy="77.4" r="2.55" fill="none" stroke="#f2756c" stroke-width="0.85"/>
<circle cx="45.6" cy="76.3" r="2.55" fill="none" stroke="#f2756c" stroke-width="0.85"/>
<circle cx="46.3" cy="75.2" r="2.55" fill="none" stroke="#f2756c" stroke-width="0.85"/>
<circle cx="47.1" cy="74.2" r="2.55" fill="none" stroke="#f2756c" stroke-width="0.85"/>
<circle cx="47.8" cy="73.1" r="2.55" fill="none" stroke="#f2756c" stroke-width="0.85"/>
<circle cx="48.5" cy="72.1" r="2.55" fill="none" stroke="#f2756c" stroke-width="0.85"/>
<circle cx="49.2" cy="71.0" r="2.55" fill="none" stroke="#f2756c" stroke-width="0.85"/>
<circle cx="50.0" cy="70.0" r="2.55" fill="none" stroke="#f2756c" stroke-width="0.85"/>
<circle cx="50.7" cy="68.9" r="2.55" fill="none" stroke="#f2756c" stroke-width="0.85"/>
<circle cx="51.4" cy="67.9" r="2.55" fill="none" stroke="#f2756c" stroke-width="0.85"/>
<circle cx="52.2" cy="66.8" r="2.55" fill="none" stroke="#f2756c" stroke-width="0.85"/>
<circle cx="52.9" cy="65.8" r="2.55" fill="none" stroke="#f2756c" stroke-width="0.85"/>
<circle cx="53.6" cy="64.7" r="2.55" fill="none" stroke="#f2756c" stroke-width="0.85"/>
<circle cx="54.3" cy="63.7" r="2.55" fill="none" stroke="#f2756c" stroke-width="0.85"/>
<circle cx="55.1" cy="62.6" r="2.55" fill="none" stroke="#f2756c" stroke-width="0.85"/>
<circle cx="55.8" cy="61.6" r="2.55" fill="none" stroke="#f2756c" stroke-width="0.85"/>
<circle cx="56.5" cy="60.5" r="2.55" fill="none" stroke="#f2756c" stroke-width="0.85"/>
<circle cx="57.3" cy="59.5" r="2.55" fill="none" stroke="#f2756c" stroke-width="0.85"/>
<circle cx="58.0" cy="58.4" r="2.55" fill="none" stroke="#f2756c" stroke-width="0.85"/>
<circle cx="58.7" cy="57.4" r="2.55" fill="none" stroke="#f2756c" stroke-width="0.85"/>
<circle cx="59.4" cy="56.3" r="2.55" fill="none" stroke="#f2756c" stroke-width="0.85"/>
<circle cx="60.2" cy="55.3" r="2.55" fill="none" stroke="#f2756c" stroke-width="0.85"/>
<circle cx="60.9" cy="54.2" r="2.55" fill="none" stroke="#f2756c" stroke-width="0.85"/>
<circle cx="61.6" cy="53.2" r="2.55" fill="none" stroke="#f2756c" stroke-width="0.85"/>
<circle cx="62.3" cy="52.1" r="2.55" fill="none" stroke="#f2756c" stroke-width="0.85"/>
<circle cx="63.1" cy="51.1" r="2.55" fill="none" stroke="#f2756c" stroke-width="0.85"/>
<circle cx="63.8" cy="50.0" r="2.55" fill="none" stroke="#f2756c" stroke-width="0.85"/>
<circle cx="64.5" cy="49.0" r="2.55" fill="none" stroke="#f2756c" stroke-width="0.85"/>
<circle cx="65.3" cy="47.9" r="2.55" fill="none" stroke="#f2756c" stroke-width="0.85"/>
<circle cx="66.0" cy="46.9" r="2.55" fill="none" stroke="#f2756c" stroke-width="0.85"/>
<circle cx="66.7" cy="45.8" r="2.55" fill="none" stroke="#f2756c" stroke-width="0.85"/>
<circle cx="67.4" cy="44.8" r="2.55" fill="none" stroke="#f2756c" stroke-width="0.85"/>
<circle cx="68.2" cy="43.7" r="2.55" fill="none" stroke="#f2756c" stroke-width="0.85"/>
<circle cx="68.9" cy="42.7" r="2.55" fill="none" stroke="#f2756c" stroke-width="0.85"/>
<circle cx="69.6" cy="41.6" r="2.55" fill="none" stroke="#f2756c" stroke-width="0.85"/>
<circle cx="70.4" cy="40.6" r="2.55" fill="none" stroke="#f2756c" stroke-width="0.85"/>
<circle cx="71.1" cy="39.5" r="2.55" fill="none" stroke="#f2756c" stroke-width="0.85"/>
<circle cx="71.8" cy="38.4" r="2.55" fill="none" stroke="#f2756c" stroke-width="0.85"/>
<circle cx="72.5" cy="37.4" r="2.55" fill="none" stroke="#f2756c" stroke-width="0.85"/>
<circle cx="73.3" cy="36.4" r="2.55" fill="none" stroke="#f2756c" stroke-width="0.85"/>
<circle cx="74.0" cy="35.3" r="2.55" fill="none" stroke="#f2756c" stroke-width="0.85"/>
<circle cx="41.3" cy="82.5" r="2.55" fill="none" stroke="#df7872" stroke-width="0.9"/>
<circle cx="76.0" cy="32.6" r="2.55" fill="none" stroke="#df7872" stroke-width="0.9"/>
<circle cx="80.6" cy="25.7" r="2.55" fill="none" stroke="#df7872" stroke-width="0.9"/>
<circle cx="88.5" cy="47.4" r="2.55" fill="none" stroke="#df7872" stroke-width="0.9"/>
<circle cx="94.2" cy="72.6" r="2.55" fill="none" stroke="#df7872" stroke-width="0.9"/>
<circle cx="93.5" cy="83.9" r="2.55" fill="none" stroke="#df7872" stroke-width="0.9"/>
<circle cx="59.5" cy="89.1" r="2.55" fill="none" stroke="#df7872" stroke-width="0.9"/>
<circle cx="72.8" cy="96.4" r="2.55" fill="none" stroke="#df7872" stroke-width="0.9"/>
<circle cx="109.6" cy="105.0" r="2.55" fill="none" stroke="#df7872" stroke-width="0.9"/>
<circle cx="90.7" cy="128.7" r="2.55" fill="none" stroke="#df7872" stroke-width="0.9"/>
<circle cx="112.3" cy="132.3" r="2.55" fill="none" stroke="#df7872" stroke-width="0.9"/>
<circle cx="77.2" cy="139.4" r="2.55" fill="none" stroke="#df7872" stroke-width="0.9"/>
<circle cx="94.8" cy="145.4" r="2.55" fill="none" stroke="#df7872" stroke-width="0.9"/>
<circle cx="110.5" cy="155.1" r="2.55" fill="none" stroke="#df7872" stroke-width="0.9"/>
<circle cx="153.5" cy="162.8" r="2.55" fill="none" stroke="#df7872" stroke-width="0.9"/>
<circle cx="169.7" cy="155.6" r="2.55" fill="none" stroke="#df7872" stroke-width="0.9"/>
<circle cx="215.1" cy="108.3" r="2.55" fill="none" stroke="#df7872" stroke-width="0.9"/>
<circle cx="199.3" cy="129.4" r="2.55" fill="none" stroke="#7aa432" stroke-width="0.9"/>
<circle cx="206.7" cy="130.5" r="2.55" fill="none" stroke="#7aa432" stroke-width="0.9"/>
<circle cx="217.9" cy="131.7" r="2.55" fill="none" stroke="#7aa432" stroke-width="0.9"/>
<circle cx="222.5" cy="125.5" r="2.55" fill="none" stroke="#7aa432" stroke-width="0.9"/>
<circle cx="226.8" cy="123.0" r="2.55" fill="none" stroke="#7aa432" stroke-width="0.9"/>
<circle cx="229.7" cy="133.1" r="2.55" fill="none" stroke="#7aa432" stroke-width="0.9"/>
<circle cx="216.5" cy="144.1" r="2.55" fill="none" stroke="#7aa432" stroke-width="0.9"/>
<circle cx="226.5" cy="142.7" r="2.55" fill="none" stroke="#7aa432" stroke-width="0.9"/>
<circle cx="229.7" cy="148.5" r="2.55" fill="none" stroke="#7aa432" stroke-width="0.9"/>
<circle cx="200.7" cy="156.4" r="2.55" fill="none" stroke="#7aa432" stroke-width="0.9"/>
<circle cx="229.7" cy="160.7" r="2.55" fill="none" stroke="#7aa432" stroke-width="0.9"/>
<circle cx="235.7" cy="106.4" r="2.55" fill="none" stroke="#7aa432" stroke-width="0.9"/>
<circle cx="233.2" cy="115.9" r="2.55" fill="none" stroke="#7aa432" stroke-width="0.9"/>
<circle cx="240.1" cy="119.7" r="2.55" fill="none" stroke="#7aa432" stroke-width="0.9"/>
<circle cx="232.6" cy="124.8" r="2.55" fill="none" stroke="#7aa432" stroke-width="0.9"/>
<circle cx="239.3" cy="125.1" r="2.55" fill="none" stroke="#7aa432" stroke-width="0.9"/>
<circle cx="267.3" cy="113.3" r="2.55" fill="none" stroke="#7aa432" stroke-width="0.9"/>
<circle cx="247.5" cy="127.4" r="2.55" fill="none" stroke="#7aa432" stroke-width="0.9"/>
<circle cx="254.1" cy="130.8" r="2.55" fill="none" stroke="#7aa432" stroke-width="0.9"/>
<circle cx="232.6" cy="131.2" r="2.55" fill="none" stroke="#7aa432" stroke-width="0.9"/>
<circle cx="246.9" cy="137.4" r="2.55" fill="none" stroke="#7aa432" stroke-width="0.9"/>
<circle cx="260.4" cy="135.1" r="2.55" fill="none" stroke="#7aa432" stroke-width="0.9"/>
<circle cx="260.9" cy="139.8" r="2.55" fill="none" stroke="#7aa432" stroke-width="0.9"/>
<circle cx="273.1" cy="137.7" r="2.55" fill="none" stroke="#7aa432" stroke-width="0.9"/>
<circle cx="271.6" cy="140.6" r="2.55" fill="none" stroke="#7aa432" stroke-width="0.9"/>
<circle cx="278.1" cy="136.5" r="2.55" fill="none" stroke="#7aa432" stroke-width="0.9"/>
<circle cx="235.0" cy="144.1" r="2.55" fill="none" stroke="#7aa432" stroke-width="0.9"/>
<circle cx="238.6" cy="146.3" r="2.55" fill="none" stroke="#7aa432" stroke-width="0.9"/>
<circle cx="244.4" cy="144.9" r="2.55" fill="none" stroke="#7aa432" stroke-width="0.9"/>
<circle cx="247.9" cy="142.7" r="2.55" fill="none" stroke="#7aa432" stroke-width="0.9"/>
<circle cx="254.4" cy="142.3" r="2.55" fill="none" stroke="#7aa432" stroke-width="0.9"/>
<circle cx="231.4" cy="148.5" r="2.55" fill="none" stroke="#7aa432" stroke-width="0.9"/>
<circle cx="240.1" cy="148.5" r="2.55" fill="none" stroke="#7aa432" stroke-width="0.9"/>
<circle cx="247.2" cy="147.7" r="2.55" fill="none" stroke="#7aa432" stroke-width="0.9"/>
<circle cx="253.7" cy="149.2" r="2.55" fill="none" stroke="#7aa432" stroke-width="0.9"/>
<circle cx="252.3" cy="152.8" r="2.55" fill="none" stroke="#7aa432" stroke-width="0.9"/>
<circle cx="260.9" cy="147.0" r="2.55" fill="none" stroke="#7aa432" stroke-width="0.9"/>
<circle cx="267.3" cy="148.9" r="2.55" fill="none" stroke="#7aa432" stroke-width="0.9"/>
<circle cx="270.5" cy="148.5" r="2.55" fill="none" stroke="#7aa432" stroke-width="0.9"/>
<circle cx="283.8" cy="144.1" r="2.55" fill="none" stroke="#7aa432" stroke-width="0.9"/>
<circle cx="237.9" cy="156.3" r="2.55" fill="none" stroke="#7aa432" stroke-width="0.9"/>
<circle cx="243.6" cy="157.8" r="2.55" fill="none" stroke="#7aa432" stroke-width="0.9"/>
<circle cx="249.8" cy="159.5" r="2.55" fill="none" stroke="#7aa432" stroke-width="0.9"/>
<circle cx="231.2" cy="160.9" r="2.55" fill="none" stroke="#7aa432" stroke-width="0.9"/>
<circle cx="242.2" cy="164.2" r="2.55" fill="none" stroke="#7aa432" stroke-width="0.9"/>
<circle cx="271.6" cy="160.7" r="2.55" fill="none" stroke="#7aa432" stroke-width="0.9"/>
<circle cx="277.4" cy="159.2" r="2.55" fill="none" stroke="#7aa432" stroke-width="0.9"/>
<circle cx="278.1" cy="163.5" r="2.55" fill="none" stroke="#7aa432" stroke-width="0.9"/>
<circle cx="273.8" cy="164.2" r="2.55" fill="none" stroke="#7aa432" stroke-width="0.9"/>
<circle cx="260.1" cy="169.3" r="2.55" fill="none" stroke="#7aa432" stroke-width="0.9"/>
<circle cx="265.9" cy="168.5" r="2.55" fill="none" stroke="#7aa432" stroke-width="0.9"/>
<circle cx="270.2" cy="169.3" r="2.55" fill="none" stroke="#7aa432" stroke-width="0.9"/>
<circle cx="283.8" cy="172.9" r="2.55" fill="none" stroke="#7aa432" stroke-width="0.9"/>
<circle cx="288.0" cy="143.3" r="2.55" fill="none" stroke="#7aa432" stroke-width="0.9"/>
<circle cx="288.0" cy="149.0" r="2.55" fill="none" stroke="#7aa432" stroke-width="0.9"/>
<circle cx="283.8" cy="151.8" r="2.55" fill="none" stroke="#7aa432" stroke-width="0.9"/>
<circle cx="287.6" cy="153.4" r="2.55" fill="none" stroke="#7aa432" stroke-width="0.9"/>
<circle cx="292.7" cy="152.8" r="2.55" fill="none" stroke="#7aa432" stroke-width="0.9"/>
<circle cx="302.1" cy="155.3" r="2.55" fill="none" stroke="#7aa432" stroke-width="0.9"/>
<circle cx="306.5" cy="156.6" r="2.55" fill="none" stroke="#7aa432" stroke-width="0.9"/>
<circle cx="275.7" cy="120.8" r="2.55" fill="none" stroke="#30b2b5" stroke-width="0.9"/>
<circle cx="281.0" cy="136.3" r="2.55" fill="none" stroke="#30b2b5" stroke-width="0.9"/>
<circle cx="282.8" cy="151.8" r="2.55" fill="none" stroke="#30b2b5" stroke-width="0.9"/>
<circle cx="306.9" cy="130.4" r="2.55" fill="none" stroke="#30b2b5" stroke-width="0.9"/>
<circle cx="310.6" cy="141.7" r="2.55" fill="none" stroke="#30b2b5" stroke-width="0.9"/>
<circle cx="315.7" cy="143.0" r="2.55" fill="none" stroke="#30b2b5" stroke-width="0.9"/>
<circle cx="306.5" cy="148.4" r="2.55" fill="none" stroke="#30b2b5" stroke-width="0.9"/>
<circle cx="313.4" cy="149.0" r="2.55" fill="none" stroke="#30b2b5" stroke-width="0.9"/>
<circle cx="317.8" cy="148.4" r="2.55" fill="none" stroke="#30b2b5" stroke-width="0.9"/>
<circle cx="319.7" cy="151.5" r="2.55" fill="none" stroke="#30b2b5" stroke-width="0.9"/>
<circle cx="323.5" cy="150.9" r="2.55" fill="none" stroke="#30b2b5" stroke-width="0.9"/>
<circle cx="310.3" cy="154.7" r="2.55" fill="none" stroke="#30b2b5" stroke-width="0.9"/>
<circle cx="314.0" cy="155.3" r="2.55" fill="none" stroke="#30b2b5" stroke-width="0.9"/>
<circle cx="316.5" cy="157.2" r="2.55" fill="none" stroke="#30b2b5" stroke-width="0.9"/>
<circle cx="321.0" cy="156.6" r="2.55" fill="none" stroke="#30b2b5" stroke-width="0.9"/>
<circle cx="297.7" cy="161.3" r="2.55" fill="none" stroke="#30b2b5" stroke-width="0.9"/>
<circle cx="309.6" cy="161.8" r="2.55" fill="none" stroke="#30b2b5" stroke-width="0.9"/>
<circle cx="315.3" cy="159.7" r="2.55" fill="none" stroke="#30b2b5" stroke-width="0.9"/>
<circle cx="316.5" cy="163.5" r="2.55" fill="none" stroke="#30b2b5" stroke-width="0.9"/>
<circle cx="327.9" cy="149.0" r="2.55" fill="none" stroke="#b386dc" stroke-width="0.9"/>
<circle cx="323.5" cy="161.0" r="2.55" fill="none" stroke="#b386dc" stroke-width="0.9"/>
<circle cx="325.4" cy="160.1" r="2.55" fill="none" stroke="#b386dc" stroke-width="0.9"/>
<circle cx="312.1" cy="172.9" r="2.55" fill="none" stroke="#b386dc" stroke-width="0.9"/>
</svg>
<rect x="414.3" y="292.5" width="343.2" height="216.39999999999998" fill="none" stroke="#333333" stroke-width="1.07"/>
<rect x="61.6" y="39.5" width="343.9" height="27.099999999999994" fill="#f2f2f2" stroke="#333333" stroke-width="1.07"/>
<text x="233.55" y="58.7" text-anchor="middle" font-family='"Liberation Sans", sans-serif' font-size="16" fill="#1a1a1a">cDBS</text>
<rect x="414.3" y="39.5" width="343.2" height="27.099999999999994" fill="#f2f2f2" stroke="#333333" stroke-width="1.07"/>
<text x="585.9" y="58.7" text-anchor="middle" font-family='"Liberation Sans", sans-serif' font-size="16" fill="#1a1a1a">cOF</text>
<rect x="757.5" y="66.6" width="27.700000000000045" height="216.79999999999998" fill="#f2f2f2" stroke="#333333" stroke-width="1.07"/>
<text transform="translate(771.35,175.0) rotate(90)" x="0" y="5.7" text-anchor="middle" font-family='"Liberation Sans", sans-serif' font-size="16" fill="#1a1a1a">Nucleocapsid</text>
<rect x="757.5" y="292.5" width="27.700000000000045" height="216.39999999999998" fill="#f2f2f2" stroke="#333333" stroke-width="1.07"/>
<text transform="translate(771.35,400.7) rotate(90)" x="0" y="5.7" text-anchor="middle" font-family='"Liberation Sans", sans-serif' font-size="16" fill="#1a1a1a">Spike</text>
<line x1="61.6" y1="66.9" x2="405.5" y2="66.9" stroke="#333333" stroke-width="2"/>
<line x1="414.3" y1="66.9" x2="757.5" y2="66.9" stroke="#333333" stroke-width="2"/>
<line x1="757.8" y1="66.6" x2="757.8" y2="283.4" stroke="#333333" stroke-width="2"/>
<line x1="757.8" y1="292.5" x2="757.8" y2="508.9" stroke="#333333" stroke-width="2"/>
<line x1="57.5" y1="100.30000000000001" x2="61.6" y2="100.30000000000001" stroke="#222" stroke-width="1.2"/>
<text x="53.5" y="106.00000000000001" text-anchor="end" font-family='"Liberation Sans", sans-serif' font-size="16" font-weight="bold" fill="#000">2.0</text>
<line x1="57.5" y1="123.05000000000001" x2="61.6" y2="123.05000000000001" stroke="#222" stroke-width="1.2"/>
<text x="53.5" y="128.75" text-anchor="end" font-family='"Liberation Sans", sans-serif' font-size="16" font-weight="bold" fill="#000">1.5</text>
<line x1="57.5" y1="145.8" x2="61.6" y2="145.8" stroke="#222" stroke-width="1.2"/>
<text x="53.5" y="151.5" text-anchor="end" font-family='"Liberation Sans", sans-serif' font-size="16" font-weight="bold" fill="#000">1.0</text>
<line x1="57.5" y1="168.55" x2="61.6" y2="168.55" stroke="#222" stroke-width="1.2"/>
<text x="53.5" y="174.25" text-anchor="end" font-family='"Liberation Sans", sans-serif' font-size="16" font-weight="bold" fill="#000">0.5</text>
<line x1="57.5" y1="191.3" x2="61.6" y2="191.3" stroke="#222" stroke-width="1.2"/>
<text x="53.5" y="197.0" text-anchor="end" font-family='"Liberation Sans", sans-serif' font-size="16" font-weight="bold" fill="#000">0.0</text>
<line x1="57.5" y1="214.05" x2="61.6" y2="214.05" stroke="#222" stroke-width="1.2"/>
<text x="53.5" y="219.75" text-anchor="end" font-family='"Liberation Sans", sans-serif' font-size="16" font-weight="bold" fill="#000">-0.5</text>
<line x1="57.5" y1="236.8" x2="61.6" y2="236.8" stroke="#222" stroke-width="1.2"/>
<text x="53.5" y="242.5" text-anchor="end" font-family='"Liberation Sans", sans-serif' font-size="16" font-weight="bold" fill="#000">-1.0</text>
<line x1="57.5" y1="259.55" x2="61.6" y2="259.55" stroke="#222" stroke-width="1.2"/>
<text x="53.5" y="265.25" text-anchor="end" font-family='"Liberation Sans", sans-serif' font-size="16" font-weight="bold" fill="#000">-1.5</text>
<line x1="57.5" y1="282.3" x2="61.6" y2="282.3" stroke="#222" stroke-width="1.2"/>
<text x="53.5" y="288.0" text-anchor="end" font-family='"Liberation Sans", sans-serif' font-size="16" font-weight="bold" fill="#000">-2.0</text>
<line x1="57.5" y1="369.0" x2="61.6" y2="369.0" stroke="#222" stroke-width="1.2"/>
<text x="53.5" y="374.7" text-anchor="end" font-family='"Liberation Sans", sans-serif' font-size="16" font-weight="bold" fill="#000">2.0</text>
<line x1="57.5" y1="396.29999999999995" x2="61.6" y2="396.29999999999995" stroke="#222" stroke-width="1.2"/>
<text x="53.5" y="401.99999999999994" text-anchor="end" font-family='"Liberation Sans", sans-serif' font-size="16" font-weight="bold" fill="#000">1.5</text>
<line x1="57.5" y1="423.59999999999997" x2="61.6" y2="423.59999999999997" stroke="#222" stroke-width="1.2"/>
<text x="53.5" y="429.29999999999995" text-anchor="end" font-family='"Liberation Sans", sans-serif' font-size="16" font-weight="bold" fill="#000">1.0</text>
<line x1="57.5" y1="450.9" x2="61.6" y2="450.9" stroke="#222" stroke-width="1.2"/>
<text x="53.5" y="456.59999999999997" text-anchor="end" font-family='"Liberation Sans", sans-serif' font-size="16" font-weight="bold" fill="#000">0.5</text>
<line x1="57.5" y1="478.2" x2="61.6" y2="478.2" stroke="#222" stroke-width="1.2"/>
<text x="53.5" y="483.9" text-anchor="end" font-family='"Liberation Sans", sans-serif' font-size="16" font-weight="bold" fill="#000">0.0</text>
<line x1="57.5" y1="505.5" x2="61.6" y2="505.5" stroke="#222" stroke-width="1.2"/>
<text x="53.5" y="511.2" text-anchor="end" font-family='"Liberation Sans", sans-serif' font-size="16" font-weight="bold" fill="#000">-0.5</text>
<line x1="63.73999999999998" y1="508.9" x2="63.73999999999998" y2="513" stroke="#222" stroke-width="1.2"/>
<text x="63.73999999999998" y="528.5" text-anchor="middle" font-family='"Liberation Sans", sans-serif' font-size="16" font-weight="bold" fill="#000">-2</text>
<line x1="141.67" y1="508.9" x2="141.67" y2="513" stroke="#222" stroke-width="1.2"/>
<text x="141.67" y="528.5" text-anchor="middle" font-family='"Liberation Sans", sans-serif' font-size="16" font-weight="bold" fill="#000">-1</text>
<line x1="219.6" y1="508.9" x2="219.6" y2="513" stroke="#222" stroke-width="1.2"/>
<text x="219.6" y="528.5" text-anchor="middle" font-family='"Liberation Sans", sans-serif' font-size="16" font-weight="bold" fill="#000">0</text>
<line x1="297.53" y1="508.9" x2="297.53" y2="513" stroke="#222" stroke-width="1.2"/>
<text x="297.53" y="528.5" text-anchor="middle" font-family='"Liberation Sans", sans-serif' font-size="16" font-weight="bold" fill="#000">1</text>
<line x1="375.46000000000004" y1="508.9" x2="375.46000000000004" y2="513" stroke="#222" stroke-width="1.2"/>
<text x="375.46000000000004" y="528.5" text-anchor="middle" font-family='"Liberation Sans", sans-serif' font-size="16" font-weight="bold" fill="#000">2</text>
<line x1="423.29999999999995" y1="508.9" x2="423.29999999999995" y2="513" stroke="#222" stroke-width="1.2"/>
<text x="423.29999999999995" y="528.5" text-anchor="middle" font-family='"Liberation Sans", sans-serif' font-size="16" font-weight="bold" fill="#000">-2</text>
<line x1="498.79999999999995" y1="508.9" x2="498.79999999999995" y2="513" stroke="#222" stroke-width="1.2"/>
<text x="498.79999999999995" y="528.5" text-anchor="middle" font-family='"Liberation Sans", sans-serif' font-size="16" font-weight="bold" fill="#000">-1</text>
<line x1="574.3" y1="508.9" x2="574.3" y2="513" stroke="#222" stroke-width="1.2"/>
<text x="574.3" y="528.5" text-anchor="middle" font-family='"Liberation Sans", sans-serif' font-size="16" font-weight="bold" fill="#000">0</text>
<line x1="649.8" y1="508.9" x2="649.8" y2="513" stroke="#222" stroke-width="1.2"/>
<text x="649.8" y="528.5" text-anchor="middle" font-family='"Liberation Sans", sans-serif' font-size="16" font-weight="bold" fill="#000">1</text>
<line x1="725.3" y1="508.9" x2="725.3" y2="513" stroke="#222" stroke-width="1.2"/>
<text x="725.3" y="528.5" text-anchor="middle" font-family='"Liberation Sans", sans-serif' font-size="16" font-weight="bold" fill="#000">2</text>
<text x="409.9" y="550.5" text-anchor="middle" font-family='"Liberation Sans", sans-serif' font-size="20" font-weight="bold" fill="#000">Mean Between Sample Types</text>
<text transform="translate(15.8,288.0) rotate(-90)" x="0" y="0" text-anchor="middle" font-family='"Liberation Sans", sans-serif' font-size="20.08" font-weight="bold" fill="#000">Difference Between Sample Types (Lab A - Lab B)</text>
</svg></body></html>
